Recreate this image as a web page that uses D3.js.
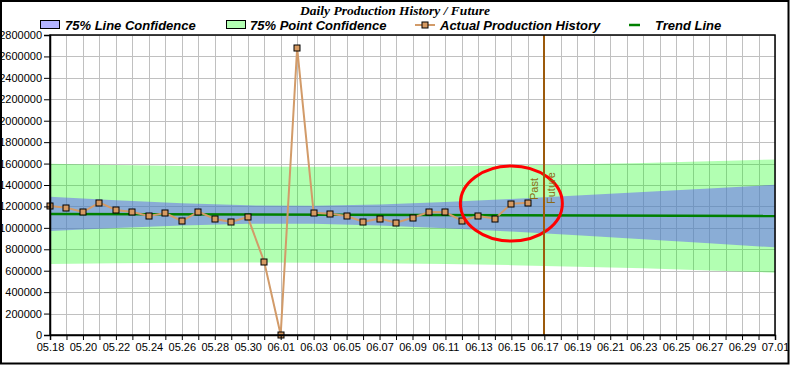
<!DOCTYPE html>
<html>
<head>
<meta charset="utf-8">
<script src="https://cdn.jsdelivr.net/npm/d3@7"></script>
<style>
  html, body { margin: 0; padding: 0; background: #fff; }
  svg { display: block; }
</style>
</head>
<body>
<svg id="chart" width="790" height="365"></svg>
<script>
// ---------------- data ----------------
const titleText = "Daily Production History / Future";
const legendLabels = ["75% Line Confidence", "75% Point Confidence", "Actual Production History", "Trend Line"];

const historyDates = ["05.18","05.19","05.20","05.21","05.22","05.23","05.24","05.25","05.26","05.27",
  "05.28","05.29","05.30","05.31","06.01","06.02","06.03","06.04","06.05","06.06",
  "06.07","06.08","06.09","06.10","06.11","06.12","06.13","06.14","06.15","06.16"];
const historyValues = [1205000,1188000,1148000,1235000,1167000,1148000,1110000,1138000,1064000,1151000,
  1083000,1055000,1101000,684000,3000,2680000,1141000,1132000,1110000,1058000,
  1086000,1048000,1095000,1148000,1145000,1067000,1110000,1086000,1225000,1235000];

const trendDates = ["05.18","07.01"];
const trendValues = [1130000,1110000];

const bandDates = ["05.18","05.22","05.26","05.30","06.03","06.07","06.11","06.15","06.19","06.23","06.27","07.01"];
const lineConfUpper = [1290000,1258000,1229000,1210000,1206000,1219000,1241000,1270000,1301000,1334000,1368000,1402000];
const lineConfLower = [970000,999000,1023000,1039000,1039000,1023000,997000,965000,930000,893000,856000,818000];
const pointConfUpper = [1598000,1587000,1578000,1573000,1571000,1572000,1576000,1583000,1593000,1606000,1621000,1638000];
const pointConfLower = [662000,670000,675000,676000,675000,670000,662000,652000,638000,622000,603000,582000];

const xDomain = ["05.18","07.01"];
const pastFutureDate = "06.17";
const yTicks = [0,200000,400000,600000,800000,1000000,1200000,1400000,1600000,1800000,2000000,2200000,2400000,2600000,2800000];
const circleCenterDate = "06.15";
const circleCenterValue = 1227000;

// ---------------- setup ----------------
const parse = d3.utcParse("%m.%d");
const fmt = d3.utcFormat("%m.%d");
const svg = d3.select("#chart");
const W = 790, H = 365;
const pL = 50, pR = 775, pT = 35, pB = 335;

const x = d3.scaleUtc().domain(xDomain.map(parse)).range([pL, pR]);
const y = d3.scaleLinear().domain([0, 2800000]).range([pB, pT]);

// outer frame
svg.append("rect").attr("x", 1).attr("y", 1).attr("width", W - 2.5).attr("height", H - 2.5)
  .attr("fill", "#fff").attr("stroke", "#000").attr("stroke-width", 2);

// title
svg.append("text").attr("x", 395).attr("y", 15).attr("text-anchor", "middle")
  .attr("font-family", "'Liberation Serif', 'Times New Roman', serif")
  .attr("font-weight", "bold").attr("font-style", "italic").attr("font-size", 13.5)
  .text(titleText);

// legend
const legFont = "'Liberation Sans', Arial, sans-serif";
const leg = svg.append("g").attr("font-family", legFont).attr("font-weight", "bold")
  .attr("font-style", "italic").attr("font-size", 13);
leg.append("rect").attr("x", 40.5).attr("y", 20.5).attr("width", 19).attr("height", 8)
  .attr("fill", "#b3b3ff").attr("stroke", "#000");
leg.append("text").attr("x", 65).attr("y", 30).text(legendLabels[0]);
leg.append("rect").attr("x", 226.5).attr("y", 20.5).attr("width", 19).attr("height", 8)
  .attr("fill", "#b3ffb3").attr("stroke", "#000");
leg.append("text").attr("x", 250).attr("y", 30).text(legendLabels[1]);
leg.append("line").attr("x1", 415).attr("x2", 435).attr("y1", 25).attr("y2", 25)
  .attr("stroke", "#d29b69").attr("stroke-width", 2);
leg.append("rect").attr("x", 422).attr("y", 22).attr("width", 6).attr("height", 6)
  .attr("fill", "#d69a62").attr("stroke", "#000");
leg.append("text").attr("x", 440).attr("y", 30).text(legendLabels[2]);
leg.append("line").attr("x1", 629).attr("x2", 640).attr("y1", 25).attr("y2", 25)
  .attr("stroke", "#008000").attr("stroke-width", 2.5);
leg.append("text").attr("x", 655).attr("y", 30).text(legendLabels[3]);

// clip
svg.append("clipPath").attr("id", "plotClip").append("rect")
  .attr("x", pL).attr("y", pT).attr("width", pR - pL).attr("height", pB - pT);

// grid
const allDays = d3.utcDay.range(parse(xDomain[0]), d3.utcDay.offset(parse(xDomain[1]), 1));
const grid = svg.append("g").attr("stroke", "#c0c0c0").attr("stroke-width", 1);
grid.selectAll("line.v").data(allDays).join("line")
  .attr("x1", d => Math.round(x(d)) + 0.5).attr("x2", d => Math.round(x(d)) + 0.5)
  .attr("y1", pT).attr("y2", pB);
grid.selectAll("line.h").data(yTicks).join("line")
  .attr("x1", pL).attr("x2", pR)
  .attr("y1", d => Math.round(y(d)) + 0.5).attr("y2", d => Math.round(y(d)) + 0.5);

// bands
const plot = svg.append("g").attr("clip-path", "url(#plotClip)");
const bandDatesP = bandDates.map(parse);
const pointArea = d3.area().x((d, i) => x(bandDatesP[i])).y0((d, i) => y(pointConfLower[i])).y1(d => y(d));
const lineArea = d3.area().x((d, i) => x(bandDatesP[i])).y0((d, i) => y(lineConfLower[i])).y1(d => y(d));
plot.append("path").datum(pointConfUpper).attr("d", pointArea)
  .attr("fill", "#00ff00").attr("fill-opacity", 0.3);
plot.append("path").datum(lineConfUpper).attr("d", lineArea)
  .attr("fill", "#615bf9").attr("fill-opacity", 0.5);

// trend
plot.append("path").datum(trendValues)
  .attr("d", d3.line().x((d, i) => x(parse(trendDates[i]))).y(d => y(d)))
  .attr("fill", "none").attr("stroke", "#008000").attr("stroke-width", 2.5);

// history
const hist = historyDates.map((d, i) => ({ date: parse(d), v: historyValues[i] }));
plot.append("path").datum(hist)
  .attr("d", d3.line().x(d => x(d.date)).y(d => y(d.v)))
  .attr("fill", "none").attr("stroke", "#d29b69").attr("stroke-width", 2);
svg.append("g").selectAll("rect").data(hist).join("rect")
  .attr("x", d => Math.round(x(d.date)) - 3).attr("y", d => Math.round(y(d.v)) - 3)
  .attr("width", 6).attr("height", 6)
  .attr("fill", "#d69a62").attr("stroke", "#000").attr("stroke-width", 1);

// red circle
svg.append("ellipse").attr("cx", x(parse(circleCenterDate))).attr("cy", y(circleCenterValue))
  .attr("rx", 51).attr("ry", 37.5).attr("fill", "none").attr("stroke", "#ff0000").attr("stroke-width", 3);

// past / future line
const xf = Math.round(x(parse(pastFutureDate)));
svg.append("line").attr("x1", xf).attr("x2", xf).attr("y1", pT).attr("y2", pB)
  .attr("stroke", "#9c5a0c").attr("stroke-width", 2);
svg.append("text").attr("transform", `translate(${xf - 6},200) rotate(-90)`)
  .attr("font-family", legFont).attr("font-size", 11).attr("fill", "#8b6a14").text("Past");
svg.append("text").attr("transform", `translate(${xf + 11},204) rotate(-90)`)
  .attr("font-family", legFont).attr("font-size", 11).attr("fill", "#8b6a14").text("Future");

// plot frame
svg.append("rect").attr("x", pL).attr("y", pT).attr("width", pR - pL).attr("height", pB - pT)
  .attr("fill", "none").attr("stroke", "#000").attr("stroke-width", 1.5);

// axes
const labelDays = allDays.filter((d, i) => i % 2 === 0);
const xAxis = d3.axisBottom(x).tickValues(allDays).tickSize(5).tickPadding(3)
  .tickFormat(d => labelDays.some(l => +l === +d) ? fmt(d) : "");
const gx = svg.append("g").attr("transform", `translate(0,${pB})`).call(xAxis);
gx.select(".domain").attr("stroke-width", 1.5);
gx.selectAll("text").attr("font-family", legFont).attr("font-size", 11).attr("fill", "#000");

const yAxis = d3.axisLeft(y).tickValues(yTicks).tickSize(6).tickPadding(2).tickFormat(d3.format("d"));
const gy = svg.append("g").attr("transform", `translate(${pL},0)`).call(yAxis);
gy.select(".domain").attr("stroke-width", 1.5);
gy.selectAll("text").attr("font-family", legFont).attr("font-size", 11).attr("fill", "#000");
</script>
</body>
</html>
